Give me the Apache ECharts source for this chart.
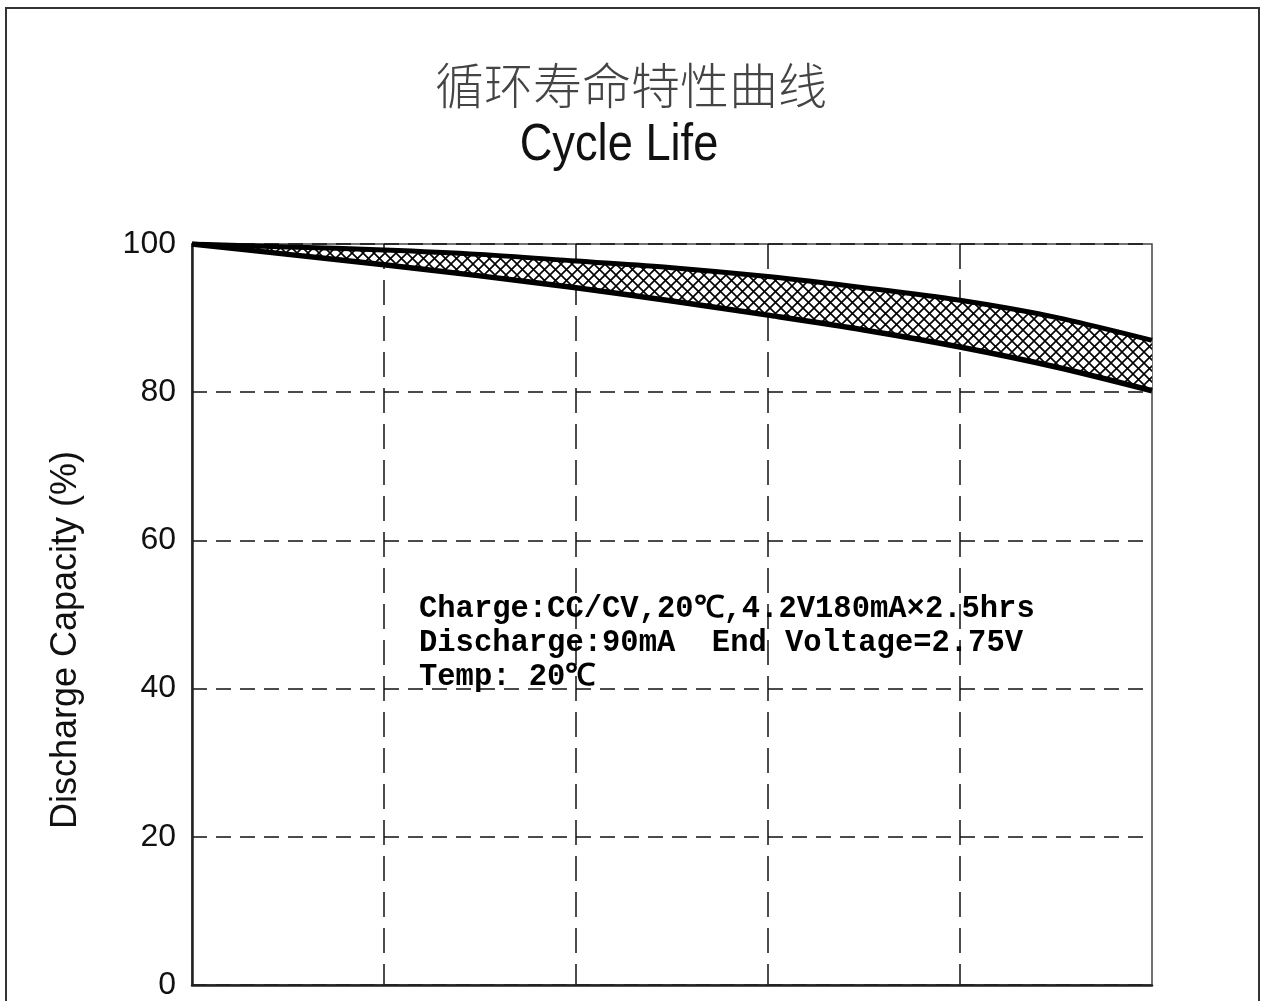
<!DOCTYPE html>
<html>
<head>
<meta charset="utf-8">
<script src="https://cdn.jsdelivr.net/npm/echarts@6/dist/echarts.min.js"></script>
<style>
html,body{margin:0;padding:0;background:#fff;}
#chart{width:1264px;height:1001px;}
</style>
</head>
<body>
<div id="chart"></div>
<script>
// Data
const cycles = ['0', '50', '100', '150', '200', '250', '300', '350', '400', '450', '500'];
const upperCapacity = [100, 99.6, 99.2, 98.6, 97.7, 96.8, 95.6, 94.1, 92.4, 90.1, 87.0];
const lowerCapacity = [100, 98.6, 97.2, 95.7, 94.1, 92.3, 90.4, 88.4, 86.1, 83.4, 80.2];
const yTicks = [0, 20, 40, 60, 80, 100];
const titleCN = '循环寿命特性曲线';
const titleEN = 'Cycle Life';
const yAxisName = 'Discharge Capacity (%)';
const noteLines = ['Charge:CC/CV,20℃,4.2V180mA×2.5hrs', 'Discharge:90mA  End Voltage=2.75V', 'Temp: 20℃'];

// crosshatch pattern
const P = 11;
const pat = document.createElement('canvas');
pat.width = P; pat.height = P;
const pc = pat.getContext('2d');
pc.fillStyle = '#fff'; pc.fillRect(0, 0, P, P);
pc.strokeStyle = '#000'; pc.lineWidth = 1.6;
pc.beginPath();
pc.moveTo(-1, -1); pc.lineTo(P + 1, P + 1);
pc.moveTo(-1, P + 1); pc.lineTo(P + 1, -1);
pc.stroke();

const bandData = upperCapacity.map((u, i) => +(u - lowerCapacity[i]).toFixed(2));

const sans = "'Liberation Sans', Arial, sans-serif";

const chart = echarts.init(document.getElementById('chart'));
chart.setOption({
  backgroundColor: '#fff',
  animation: false,
  grid: {left: 192, right: 112, top: 244, bottom: 10, show: true, borderColor: '#444', borderWidth: 1.5, backgroundColor: 'transparent'},
  xAxis: {
    type: 'category', data: cycles, boundaryGap: false,
    axisLine: {show: true, lineStyle: {color: '#222', width: 2.5}},
    axisTick: {show: false}, axisLabel: {show: false},
    splitLine: {show: true, interval: (i) => i % 2 === 0 && i !== 0 && i !== cycles.length - 1, lineStyle: {color: '#111', width: 1.5, type: [25, 11]}}
  },
  yAxis: {
    type: 'value', min: 0, max: 100, interval: 20,
    axisLine: {show: true, lineStyle: {color: '#222', width: 2.5}},
    axisTick: {show: false},
    axisLabel: {margin: 16, fontFamily: sans, fontSize: 32, color: '#111',
      formatter: v => yTicks.includes(v) ? String(v) : ''},
    splitLine: {show: true, lineStyle: {color: '#111', width: 1.5, type: [15, 9]}}
  },
  graphic: [
    {type: 'rect', z: 0, shape: {x: 6, y: 8, width: 1253, height: 1010}, style: {fill: 'none', stroke: '#333', lineWidth: 2}},
    {type: 'text', x: 631, y: 85, style: {text: titleCN, fontFamily: "'Noto Sans CJK SC', sans-serif", fontWeight: 300, fontSize: 49, fill: '#444', textAlign: 'center', textVerticalAlign: 'middle'}},
    {type: 'text', x: 619, y: 146, scaleX: 0.87, style: {text: titleEN, fontFamily: sans, fontSize: 52, fill: '#111', textAlign: 'center', textVerticalAlign: 'middle'}},
    {type: 'text', x: 66, y: 640, rotation: Math.PI / 2, style: {text: yAxisName, fontFamily: sans, fontSize: 36, fill: '#111', textAlign: 'center', textVerticalAlign: 'middle'}},
    {type: 'text', x: 419, y: 592, z: 100, style: {text: noteLines.join('\n'), fontFamily: "'Liberation Mono', 'DejaVu Sans Mono', monospace", fontWeight: 'bold', fontSize: 30.5, lineHeight: 34, fill: '#000', textAlign: 'left', textVerticalAlign: 'top'}}
  ],
  series: [
    {type: 'line', stack: 'band', data: lowerCapacity, smooth: 0.3, symbol: 'none', lineStyle: {width: 0, opacity: 0}, silent: true},
    {type: 'line', stack: 'band', data: bandData, smooth: 0.3, symbol: 'none', lineStyle: {width: 0, opacity: 0}, areaStyle: {color: {image: pat, repeat: 'repeat'}, opacity: 1}, silent: true},
    {type: 'line', data: upperCapacity, smooth: 0.3, symbol: 'none', lineStyle: {color: '#000', width: 5}, z: 5},
    {type: 'line', data: lowerCapacity, smooth: 0.3, symbol: 'none', lineStyle: {color: '#000', width: 5.5}, z: 5}
  ]
});
</script>
</body>
</html>
